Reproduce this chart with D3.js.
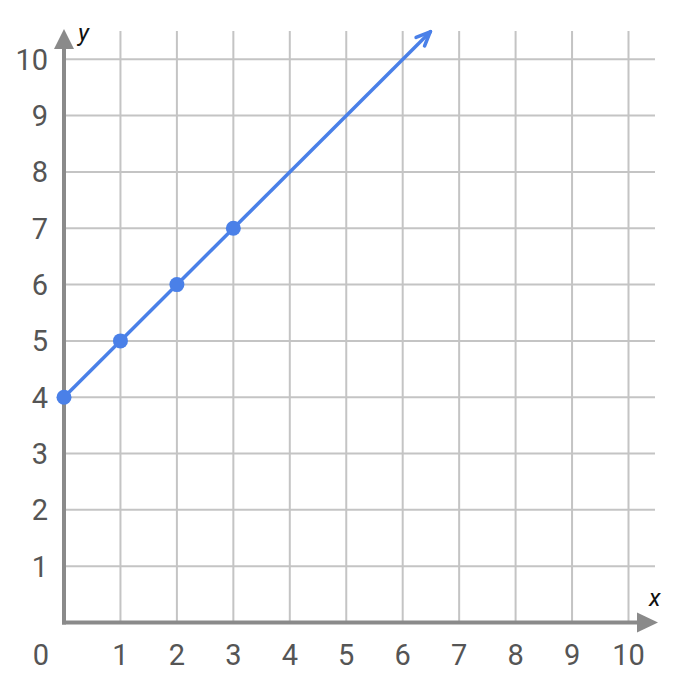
<!DOCTYPE html>
<html><head><meta charset="utf-8">
<script src="https://cdn.jsdelivr.net/npm/d3@7"></script>
<style>body{margin:0;background:#fff}svg{display:block}</style>
</head><body>
<script>
const ticks = [0,1,2,3,4,5,6,7,8,9,10];
const pointsX = [0,1,2,3];
const pointsY = [4,5,6,7];
const lineStart = [0,4];
const lineEnd = [6.5,10.5];

const W=678,H=684;
const svg=d3.select("body").append("svg").attr("width",W).attr("height",H);
const x=d3.scaleLinear().domain([0,10]).range([64,628.5]);
const y=d3.scaleLinear().domain([0,10]).range([622.5,59.3]);
const gridC="#c4c4c4", axisC="#8a8a8a", blue="#4a80e8", txt="#555";

// grid
svg.append("g").selectAll("line.v").data(ticks.slice(1)).join("line")
  .attr("x1",d=>x(d)).attr("x2",d=>x(d)).attr("y1",31).attr("y2",y(0))
  .attr("stroke",gridC).attr("stroke-width",2);
svg.append("g").selectAll("line.h").data(ticks.slice(1)).join("line")
  .attr("y1",d=>y(d)).attr("y2",d=>y(d)).attr("x1",x(0)).attr("x2",655)
  .attr("stroke",gridC).attr("stroke-width",2);

// axes
svg.append("line").attr("x1",x(0)-2).attr("x2",640).attr("y1",y(0)).attr("y2",y(0))
  .attr("stroke",axisC).attr("stroke-width",4);
svg.append("path").attr("d",`M658,${y(0)} L637,${y(0)-10} L637,${y(0)+10} Z`).attr("fill",axisC);
svg.append("line").attr("x1",x(0)).attr("x2",x(0)).attr("y1",y(0)+2).attr("y2",45)
  .attr("stroke",axisC).attr("stroke-width",4);
svg.append("path").attr("d",`M${x(0)},29 L${x(0)-10},49 L${x(0)+10},49 Z`).attr("fill",axisC);

// tick labels
svg.append("g").selectAll("text").data(ticks.slice(1)).join("text")
  .attr("x",48).attr("y",d=>y(d)).attr("dy","0.36em").attr("text-anchor","end")
  .attr("font-family","Roboto").attr("font-size",29).attr("fill",txt).text(d=>d);
svg.append("g").selectAll("text").data(ticks).join("text")
  .attr("x",d=>d===0?41:x(d)).attr("y",665).attr("text-anchor","middle")
  .attr("font-family","Roboto").attr("font-size",29).attr("fill",txt).text(d=>d);

// axis names
svg.append("text").attr("x",78).attr("y",41).attr("font-family","Roboto").attr("font-style","italic")
  .attr("font-size",24).attr("fill","#111").text("y");
svg.append("text").attr("x",649).attr("y",606).attr("font-family","Roboto").attr("font-style","italic")
  .attr("font-size",24).attr("fill","#111").text("x");

// line with arrow
const defs=svg.append("defs");
defs.append("marker").attr("id","arr").attr("viewBox","0 0 18 16").attr("refX",17).attr("refY",8)
  .attr("markerWidth",18).attr("markerHeight",16).attr("markerUnits","userSpaceOnUse").attr("orient","auto")
  .append("path").attr("d","M2,2 L16,8 L2,14").attr("fill","none").attr("stroke",blue)
  .attr("stroke-width",3.5).attr("stroke-linejoin","miter").attr("stroke-linecap","round");
svg.append("line").attr("x1",x(lineStart[0])).attr("y1",y(lineStart[1]))
  .attr("x2",x(lineEnd[0])).attr("y2",y(lineEnd[1]))
  .attr("stroke",blue).attr("stroke-width",3.5).attr("marker-end","url(#arr)");

svg.append("g").selectAll("circle").data(pointsX).join("circle")
  .attr("cx",d=>x(d)).attr("cy",(d,i)=>y(pointsY[i])).attr("r",7.5).attr("fill",blue);
</script>
</body></html>
